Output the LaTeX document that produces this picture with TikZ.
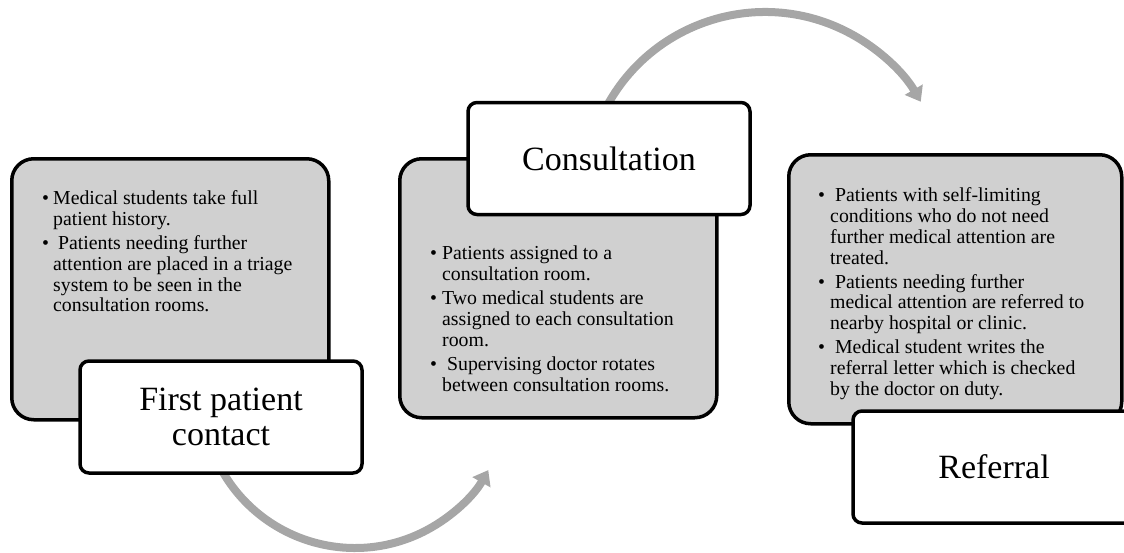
\documentclass[tikz,border=0pt]{standalone}
\usepackage{fontspec}
\setmainfont{Liberation Serif}
\usetikzlibrary{arrows.meta}
\definecolor{boxgray}{RGB}{208,208,208}
\definecolor{arrgray}{RGB}{166,166,166}
\newcommand\bulfont{\fontsize{19.8}{20.7}\selectfont}
\newcommand\ttlfont{\fontsize{34}{35}\selectfont}
\begin{document}
\begin{tikzpicture}[x=1pt,y=-1pt,
  graybox/.style={draw=black, line width=3.5pt, fill=boxgray, rounded corners=22pt, inner sep=0, anchor=north west},
  titlebox/.style={draw=black, line width=3.5pt, fill=white, rounded corners=9pt, font=\ttlfont, align=center, inner sep=0, minimum width=282pt, minimum height=112pt},
  flow/.style={draw=arrgray, line width=8pt, -{Triangle[width=20pt,length=14pt]}},
  bullets/.style={inner sep=0, anchor=north west, font=\bulfont}
]
\useasboundingbox (0,0) rectangle (1124,552);
\clip (0,0) rectangle (1124,552);

% connectors (behind the boxes)
\coordinate (a1s) at (219.9,466.8);
\coordinate (a2s) at (606.1,107.5);
\draw[flow] (a1s) arc[start angle=152, end angle=29.4, radius=153];
\draw[flow] (a2s) arc[start angle=-152, end angle=-30.1, radius=180];

% gray content boxes
\node[graybox, minimum width=317pt, minimum height=261pt] (g1) at (10,157) {};
\node[graybox, minimum width=317pt, minimum height=259pt] (g2) at (398,157) {};
\node[graybox, minimum width=333pt, minimum height=269pt] (g3) at (787,153) {};

% bullet texts
\node[bullets] (t1) at (42,190.3) {\begin{tabular}{@{}p{11pt}@{}l@{}}
\textbullet & Medical students take full\\
 & patient history.\\[3.5pt]
\textbullet & \ Patients needing further\\
 & attention are placed in a triage\\
 & system to be seen in the\\
 & consultation rooms.
\end{tabular}};

\node[bullets] (t2) at (430,245.3) {\begin{tabular}{@{}p{12pt}@{}l@{}}
\textbullet & Patients assigned to a\\
 & consultation room.\\[3.5pt]
\textbullet & Two medical students are\\
 & assigned to each consultation\\
 & room.\\[3.5pt]
\textbullet & \ Supervising doctor rotates\\
 & between consultation rooms.
\end{tabular}};

\node[bullets] (t3) at (818,187.3) {\begin{tabular}{@{}p{12pt}@{}l@{}}
\textbullet & \ Patients with self-limiting\\
 & conditions who do not need\\
 & further medical attention are\\
 & treated.\\[3.5pt]
\textbullet & \ Patients needing further\\
 & medical attention are referred to\\
 & nearby hospital or clinic.\\[3.5pt]
\textbullet & \ Medical student writes the\\
 & referral letter which is checked\\
 & by the doctor on duty.
\end{tabular}};

% white title boxes
\node[titlebox] (w1) at (221,417) {First patient\\contact};
\node[titlebox] (w2) at (609,158.5) {Consultation};
\node[titlebox] (w3) at (994,467) {Referral};
\end{tikzpicture}
\end{document}
